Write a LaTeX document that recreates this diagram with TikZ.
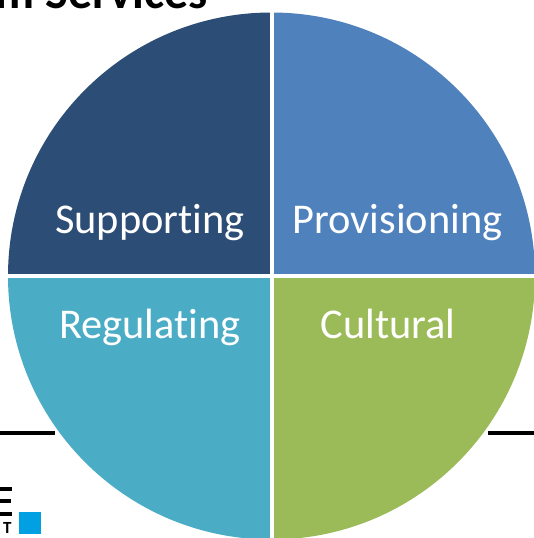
\documentclass[tikz,border=0pt]{standalone}
\usepackage{fontspec}
\setmainfont{Carlito}[Ligatures=NoCommon]
\definecolor{qsup}{HTML}{2C4D75}
\definecolor{qpro}{HTML}{4F81BD}
\definecolor{qreg}{HTML}{4BACC6}
\definecolor{qcul}{HTML}{9BBB59}
\definecolor{logoblue}{HTML}{00A0E3}
\tikzset{
  qlabel/.style={text=white,font=\fontsize{42.4}{44}\selectfont,anchor=base,inner sep=0pt},
  rulebar/.style={draw=black,line width=3.6pt}
}
\begin{document}
\begin{tikzpicture}[x=1pt,y=-1pt]
\useasboundingbox (0,0) rectangle (534,538);
\clip (0,0) rectangle (534,538);
\fill[white] (0,0) rectangle (534,538);
\coordinate (lineL0) at (0,432.7);
\coordinate (lineL1) at (55,432.7);
\coordinate (lineR0) at (488,432.7);
\coordinate (lineR1) at (534,432.7);
\draw[rulebar] (lineL0) -- (lineL1);
\draw[rulebar] (lineR0) -- (lineR1);
\node[anchor=base east,inner sep=0pt,font=\fontsize{48}{50}\selectfont\bfseries,text=black] (title) at (208,9) {m Services};
\coordinate (c) at (271.5,276);
\def\R{263.5}
\fill[qsup] (c) -- ++(-\R,0) arc[start angle=180,end angle=90,radius=\R pt] -- cycle;
\fill[qpro] (c) -- ++(0,-\R) arc[start angle=90,end angle=0,radius=\R pt] -- cycle;
\fill[qcul] (c) -- ++(\R,0) arc[start angle=0,end angle=-90,radius=\R pt] -- cycle;
\fill[qreg] (c) -- ++(0,\R) arc[start angle=-90,end angle=-180,radius=\R pt] -- cycle;
\draw[white,line width=4pt] (271.5,0) -- (271.5,538);
\draw[white,line width=4pt] (0,276) -- (534,276);
\node[qlabel] (sup) at (150,233) {Supporting};
\node[qlabel] (pro) at (397.5,233) {Provisioning};
\node[qlabel] (reg) at (150,338) {Regulating};
\node[qlabel] (cul) at (388,338) {Cultural};
\fill[black] (0,487) rectangle (12,491);
\fill[black] (0,499) rectangle (11,503);
\fill[black] (0,512) rectangle (12,516);
\node[anchor=base west,inner sep=0pt,font=\fontsize{17}{18}\selectfont\bfseries] (t) at (3,533) {T};
\fill[logoblue] (19,512) rectangle (41,534);
\end{tikzpicture}
\end{document}
